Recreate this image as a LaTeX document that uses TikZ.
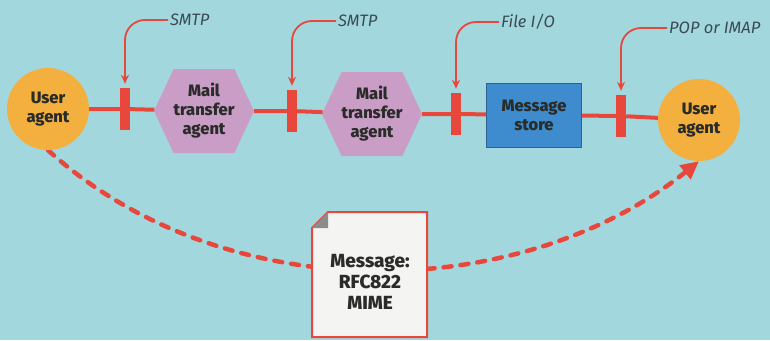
\documentclass[tikz,border=0pt]{standalone}
\usepackage{fontspec}
\setmainfont{Fira Sans}[BoldFont={Fira Sans ExtraBold}]
\usetikzlibrary{shapes.symbols,arrows.meta}
\pgfdeclarelayer{bg}\pgfdeclarelayer{mid}\pgfsetlayers{bg,mid,main}
\definecolor{bgc}{HTML}{A2D8DD}
\definecolor{redc}{HTML}{E8483C}
\definecolor{orangec}{HTML}{F4B03E}
\definecolor{hexc}{HTML}{C99DC6}
\definecolor{bluec}{HTML}{3E8CCD}
\definecolor{txt}{HTML}{2A2C2A}
\definecolor{lbl}{HTML}{3A4A52}
\definecolor{paper}{HTML}{F4F4F2}
\definecolor{foldc}{HTML}{8C8C8C}
\begin{document}
\begin{tikzpicture}[x=1pt,y=-1pt,
 bold/.style={font=\fontsize{16.5}{19}\selectfont\bfseries, text=txt, align=center},
 agent/.style={bold, circle, fill=orangec, minimum size=82pt, inner sep=0pt},
 mta/.style={bold, signal, signal to=west and east, signal pointer angle=130, fill=hexc, minimum width=85pt, minimum height=84pt, inner sep=0pt},
 storebox/.style={bold, rectangle, fill=bluec, draw=bluec!70!black, line width=0.8pt, minimum width=95pt, minimum height=64pt, inner sep=0pt},
 bar/.style={rectangle, fill=redc, minimum width=10pt, minimum height=42pt, inner sep=0pt},
 proto/.style={font=\fontsize{16.5}{18}\selectfont\itshape, text=lbl, anchor=west, inner sep=2pt},
 link/.style={draw=redc, line width=4pt},
 leader/.style={draw=redc, line width=1.8pt, rounded corners=20pt, -{Stealth[length=9pt,width=8pt]}, shorten >=4pt},
 dashlink/.style={draw=redc, line width=4.5pt, line cap=round, dash pattern=on 8pt off 9pt, -{Triangle[length=18pt,width=17pt]}},
 doctext/.style={bold, font=\fontsize{19}{21}\selectfont\bfseries, inner sep=0pt}]
\begin{pgfonlayer}{bg}
\fill[bgc] (0,0) rectangle (770,340);
\end{pgfonlayer}
\useasboundingbox (0,0) rectangle (770,340);

\node[agent] (ua1) at (48,109) {User\\agent};
\node[bar] (bar1) at (125,109) {};
\node[mta] (h1) at (204,111) {Mail\\transfer\\agent};
\node[bar] (bar2) at (292,111) {};
\node[mta] (h2) at (372,114) {Mail\\transfer\\agent};
\node[bar] (bar3) at (456,114) {};
\node[storebox] (store) at (534,115) {Message\\store};
\node[bar] (bar4) at (621,116) {};
\node[agent] (ua2) at (699,120) {User\\agent};

\draw[link] (ua1) -- (bar1) -- (h1) -- (bar2) -- (h2) -- (bar3) -- (store) -- (bar4) -- (ua2);

\node[proto] (p1) at (168,20) {SMTP};
\node[proto] (p2) at (336,21) {SMTP};
\node[proto] (p3) at (499,22) {File I/O};
\node[proto] (p4) at (667,28) {POP or IMAP};

\draw[leader] (p1.west) -| (bar1.north);
\draw[leader] (p2.west) -| (bar2.north);
\draw[leader] (p3.west) -| (bar3.north);
\draw[leader] (p4.west) -| (bar4.north);

\coordinate (docnw) at (312,212);
\coordinate (docse) at (427,337);
\node[doctext] (doc) at (370,282) {Message:\\RFC822\\MIME};

\begin{pgfonlayer}{mid}
\draw[dashlink] (ua1.south) .. controls (227,312) and (522,303) .. (ua2.south);
\filldraw[fill=paper, draw=redc, line width=2pt] ([yshift=-16pt]docnw) -- ([xshift=16pt]docnw) -- (docnw -| docse) -- (docse) -- (docse -| docnw) -- cycle;
\fill[foldc] ([yshift=-16pt]docnw) -- ([xshift=16pt]docnw) -- ([shift={(16pt,-16pt)}]docnw) -- cycle;
\end{pgfonlayer}
\end{tikzpicture}
\end{document}
